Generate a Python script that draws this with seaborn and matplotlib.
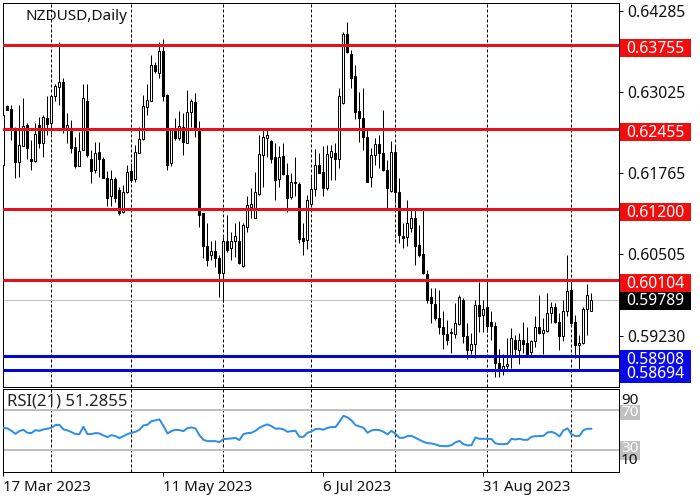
import numpy as np
import pandas as pd
import seaborn as sns
import matplotlib
matplotlib.use('Agg')
import matplotlib.pyplot as plt
from matplotlib.patches import Rectangle
from matplotlib.transforms import IdentityTransform

opens = [.6189, .6281, .6276, .6244, .6193, .6219, .6251, .6198, .6195, .6252,
         .6224, .6263, .6255, .6296, .6311, .6319, .6244, .6244, .6217, .6187,
         .6212, .6289, .6199, .6181, .6209, .6199, .6169, .6140, .6167, .6150,
         .6115, .6147, .6179, .6167, .6207, .6229, .6280, .6289, .6345, .6333,
         .6367, .6298, .6192, .6243, .6231, .6249, .6224, .6271, .6287, .6244,
         .6114, .6063, .6049, .6055, .6044, .6021, .6070, .6060, .6071, .6071,
         .6031, .6093, .6124, .6106, .6144, .6205, .6231, .6226, .6201, .6167,
         .6203, .6174, .6139, .6163, .6160, .6075, .6072, .6128, .6151, .6189,
         .6178, .6153, .6202, .6207, .6199, .6286, .6393, .6362, .6328, .6273,
         .6263, .6232, .6170, .6204, .6221, .6208, .6182, .6148, .6209, .6147,
         .6078, .6077, .6091, .6106, .6064, .6051, .6019, .5983, .5972, .5950,
         .5936, .5925, .5928, .5925, .5941, .5979, .5923, .5901, .5910, .5971,
         .5955, .5967, .5944, .5938, .5881, .5871, .5875, .5893, .5917, .5900,
         .5916, .5911, .5897, .5914, .5937, .5927, .5931, .5958, .5967, .5944,
         .5922, .5961, .5994, .5945, .5908, .5911, .5964, .5962]
highs = [.6277, .6283, .6283, .6249, .6283, .6294, .6254, .6228, .6254, .6264,
         .6267, .6296, .6298, .6316, .6380, .6324, .6270, .6259, .6233, .6241,
         .6315, .6315, .6212, .6225, .6225, .6202, .6180, .6181, .6171, .6155,
         .6158, .6189, .6192, .6220, .6249, .6298, .6316, .6360, .6350, .6381,
         .6385, .6299, .6244, .6262, .6273, .6270, .6306, .6292, .6302, .6257,
         .6114, .6098, .6070, .6072, .6049, .6077, .6111, .6085, .6099, .6101,
         .6099, .6140, .6153, .6178, .6236, .6246, .6246, .6228, .6223, .6218,
         .6223, .6192, .6176, .6202, .6163, .6098, .6142, .6171, .6214, .6207,
         .6219, .6220, .6220, .6224, .6309, .6396, .6412, .6369, .6345, .6303,
         .6309, .6244, .6215, .6231, .6236, .6275, .6197, .6226, .6219, .6168,
         .6098, .6134, .6121, .6119, .6096, .6119, .6025, .5997, .5997, .5994,
         .5961, .5948, .5935, .5974, .5986, .5981, .5942, .5927, .5979, .6007,
         .5979, .6010, .5962, .5945, .5903, .5895, .5919, .5935, .5924, .5927,
         .5945, .5937, .5916, .5953, .5986, .5950, .5989, .5976, .5974, .5958,
         .5979, .6049, .6011, .5955, .5924, .5967, .6003, .5989]
lows = [.6187, .6274, .6228, .6168, .6171, .6218, .6199, .6181, .6194, .6215,
        .6202, .6236, .6238, .6288, .6283, .6239, .6223, .6207, .6184, .6187,
        .6212, .6202, .6161, .6176, .6171, .6169, .6125, .6125, .6132, .6111,
        .6114, .6146, .6163, .6163, .6207, .6228, .6267, .6289, .6332, .6324,
        .6288, .6182, .6187, .6228, .6228, .6205, .6223, .6249, .6233, .6093,
        .6044, .6032, .6041, .6030, .5984, .5976, .6054, .6041, .6045, .6035,
        .6030, .6085, .6106, .6106, .6142, .6155, .6202, .6192, .6135, .6155,
        .6174, .6116, .6136, .6140, .6068, .6049, .6058, .6128, .6141, .6176,
        .6140, .6150, .6166, .6166, .6184, .6284, .6363, .6309, .6260, .6225,
        .6212, .6163, .6155, .6189, .6184, .6179, .6121, .6147, .6130, .6068,
        .6059, .6062, .6085, .6033, .6045, .6019, .5974, .5943, .5948, .5926,
        .5903, .5909, .5896, .5919, .5940, .5911, .5886, .5895, .5888, .5929,
        .5929, .5929, .5916, .5858, .5859, .5862, .5871, .5872, .5890, .5879,
        .5896, .5893, .5893, .5906, .5925, .5895, .5929, .5942, .5942, .5901,
        .5914, .5954, .5941, .5888, .5870, .5910, .5924, .5961]
closes = [.6267, .6275, .6244, .6193, .6220, .6250, .6215, .6196, .6238, .6224,
          .6264, .6253, .6297, .6312, .6318, .6244, .6252, .6216, .6187, .6211,
          .6293, .6204, .6180, .6207, .6199, .6169, .6137, .6167, .6137, .6114,
          .6147, .6178, .6166, .6209, .6230, .6281, .6290, .6345, .6335, .6367,
          .6297, .6189, .6243, .6231, .6250, .6225, .6271, .6288, .6248, .6111,
          .6062, .6041, .6055, .6044, .6021, .6070, .6056, .6071, .6078, .6036,
          .6096, .6127, .6128, .6147, .6206, .6232, .6236, .6199, .6166, .6201,
          .6175, .6137, .6163, .6161, .6073, .6070, .6135, .6151, .6189, .6177,
          .6153, .6206, .6211, .6198, .6296, .6393, .6365, .6324, .6271, .6263,
          .6232, .6163, .6205, .6221, .6208, .6181, .6153, .6209, .6147, .6080,
          .6076, .6098, .6106, .6063, .6049, .6020, .5979, .5974, .5950, .5936,
          .5925, .5916, .5927, .5943, .5984, .5922, .5901, .5910, .5971, .5953,
          .5965, .5938, .5938, .5881, .5872, .5875, .5879, .5919, .5902, .5916,
          .5910, .5893, .5915, .5937, .5927, .5932, .5958, .5967, .5944, .5922,
          .5962, .5993, .5943, .5908, .5911, .5964, .5987, .5979]
rsi = [52.3, 51.7, 49.3, 46.3, 49.0, 50.3, 47.3, 47.0, 50.0, 49.3,
       50.7, 51.3, 52.3, 55.0, 55.3, 50.7, 49.7, 48.0, 46.0, 46.0,
       53.3, 46.0, 46.0, 47.0, 46.7, 44.7, 43.0, 45.0, 44.0, 42.0,
       44.0, 46.0, 47.3, 48.3, 50.3, 54.7, 55.3, 59.0, 59.7, 60.7,
       54.3, 46.7, 49.0, 50.3, 50.0, 49.0, 52.0, 52.7, 51.7, 45.0,
       40.3, 39.0, 39.0, 39.0, 38.0, 41.0, 41.3, 41.7, 42.3, 40.0,
       46.0, 47.0, 47.3, 49.3, 52.3, 54.3, 55.7, 54.0, 51.3, 51.7,
       50.7, 48.3, 49.0, 49.3, 43.3, 43.3, 47.3, 48.7, 51.0, 51.3,
       50.3, 52.3, 53.0, 53.0, 58.3, 64.3, 62.7, 59.7, 55.0, 53.7,
       52.3, 47.3, 49.7, 50.3, 50.0, 48.3, 45.7, 49.3, 46.3, 42.3,
       42.3, 44.0, 44.3, 42.3, 40.3, 38.3, 37.0, 36.7, 35.7, 34.3,
       34.0, 34.0, 35.0, 37.7, 39.3, 36.0, 34.7, 35.0, 42.7, 41.3,
       41.3, 41.3, 41.0, 36.7, 36.0, 36.0, 36.3, 41.3, 40.7, 41.3,
       40.3, 40.3, 43.3, 44.0, 44.0, 44.3, 47.7, 48.3, 46.7, 43.7,
       49.7, 51.7, 45.7, 44.0, 44.3, 50.0, 51.3, 51.29]

red_levels = [0.63755, 0.62455, 0.61200, 0.60104]
blue_levels = [0.58908, 0.58694]
last_price = 0.59789
price_ticks = [0.64285, 0.63025, 0.61765, 0.60505, 0.59230]
date_bars = [0, 40, 80, 120]
date_labels = ['17 Mar 2023', '11 May 2023', '6 Jul 2023', '31 Aug 2023']
month_bars = [12, 32, 55, 77, 98, 121, 142]

sns.set_style('white')
plt.rcParams['font.family'] = 'Noto Sans'
plt.rcParams['font.size'] = 11

df = pd.DataFrame({'open': opens, 'high': highs, 'low': lows, 'close': closes, 'rsi': rsi})
df['bar'] = df.index
df['bottom'] = df[['open', 'close']].min(axis=1)
df['height'] = (df['close'] - df['open']).abs()
up = df[df['close'] >= df['open']]
down = df[df['close'] < df['open']]

px = 0.72
W, H = 700, 500
RED = '#e8101a'
BLUE = '#0505d8'
fig = plt.figure(figsize=(7, 5), dpi=100, facecolor='white')
ax = fig.add_axes([3 / W, 1 - 386.5 / H, 615.5 / W, 383.5 / H])
ax_rsi = fig.add_axes([3 / W, 1 - 471.5 / H, 615.5 / W, 82.5 / H], sharex=ax)

for a in (ax, ax_rsi):
    for bar in month_bars:
        a.axvline(bar, color='black', lw=px, dashes=(3, 2), zorder=1)
    for s in a.spines.values():
        s.set_linewidth(px)
        s.set_color('black')

ax.axhline(last_price, color='#c0c0c0', lw=px, zorder=1.5)
ax.vlines(df['bar'], df['low'], df['high'], color='black', lw=px, zorder=2)
ax.bar(up['bar'], up['height'], bottom=up['bottom'], width=0.5, facecolor='white',
       edgecolor='black', linewidth=px, zorder=3)
ax.bar(down['bar'], down['height'], bottom=down['bottom'], width=0.5, facecolor='black',
       edgecolor='black', linewidth=px, zorder=3)
for level in red_levels:
    ax.axhline(level, color=RED, lw=3 * px, zorder=4)
for level in blue_levels:
    ax.axhline(level, color=BLUE, lw=3 * px, zorder=4)

ax.set_xlim(-0.1, 153.75)
ax.set_ylim(0.58438, 0.64415)
ax.yaxis.tick_right()
ax.set_yticks(price_ticks)
ax.set_yticklabels(['%.5f' % t for t in price_ticks], fontsize=11.3)
ax.tick_params(axis='y', length=3, width=px, pad=3, color='black', labelcolor='#111111', right=True)
ax.tick_params(axis='x', bottom=False, labelbottom=False)
ax.annotate('NZDUSD,Daily', xy=(0, 1), xycoords='axes fraction', xytext=(23 * px, -13 * px),
            textcoords='offset points', ha='left', va='center', fontsize=11, color='#111111', zorder=6)


def price_box(level, color, zorder, up_px=6, down_px=12, text_px=4):
    # MT4 style label that sits on the price scale
    y0 = ax.transData.transform((0, level))[1]
    fig.add_artist(Rectangle((620, y0 - down_px), 71, up_px + down_px, transform=IdentityTransform(),
                             facecolor=color, edgecolor='none', zorder=zorder))
    fig.text(626 / W, (y0 - text_px) / H, '%.5f' % level, color='white', fontsize=11.3, ha='left',
             va='center', zorder=zorder + 0.5)


fig.canvas.draw()
for i, level in enumerate(red_levels):
    price_box(level, '#f00f0f', 10 + i)
price_box(last_price, '#000000', 20, up_px=8, down_px=10, text_px=1.5)
price_box(blue_levels[0], '#0a0ae6', 30)
price_box(blue_levels[1], '#0a0ae6', 31, up_px=4.5, down_px=12.5)

# RSI pane
ax_rsi.axhline(70, color='#c0c0c0', lw=2 * px, zorder=1.5)
ax_rsi.axhline(30, color='#c0c0c0', lw=2 * px, zorder=1.5)
sns.lineplot(data=df, x='bar', y='rsi', ax=ax_rsi, color='#2f8fe6', linewidth=2 * px, zorder=3)
ax_rsi.set_ylim(8.7, 91)
ax_rsi.set_xlabel('')
ax_rsi.set_ylabel('')
ax_rsi.set_yticks([])
ax_rsi.set_xticks(date_bars)
ax_rsi.set_xticklabels(date_labels, ha='left', fontsize=10.8, color='#111111')
ax_rsi.tick_params(axis='x', length=3, width=px, pad=3, color='black', bottom=True)
ax_rsi.annotate('RSI(21) 51.2855', xy=(0, 1), xycoords='axes fraction', xytext=(4 * px, -12 * px),
                textcoords='offset points', ha='left', va='center', fontsize=12, color='#222222', zorder=6)

fig.add_artist(Rectangle((620, H - 420), 20, 15, transform=IdentityTransform(), facecolor='#c0c0c0',
                         edgecolor='none', zorder=5))
fig.add_artist(Rectangle((620, H - 460), 20, 19, transform=IdentityTransform(), facecolor='#c0c0c0',
                         edgecolor='none', zorder=5))
fig.text(621 / W, 1 - 412 / H, '70', color='white', fontsize=11, ha='left', va='center', zorder=6)
fig.text(621 / W, 1 - 449 / H, '30', color='white', fontsize=11, ha='left', va='center', zorder=6)
fig.text(621 / W, 1 - 400 / H, '90', color='#111111', fontsize=11, ha='left', va='center', zorder=7)
fig.text(621 / W, 1 - 461 / H, '10', color='#111111', fontsize=11, ha='left', va='center', zorder=7)

fig.savefig('out.png', dpi=100, facecolor='white')
